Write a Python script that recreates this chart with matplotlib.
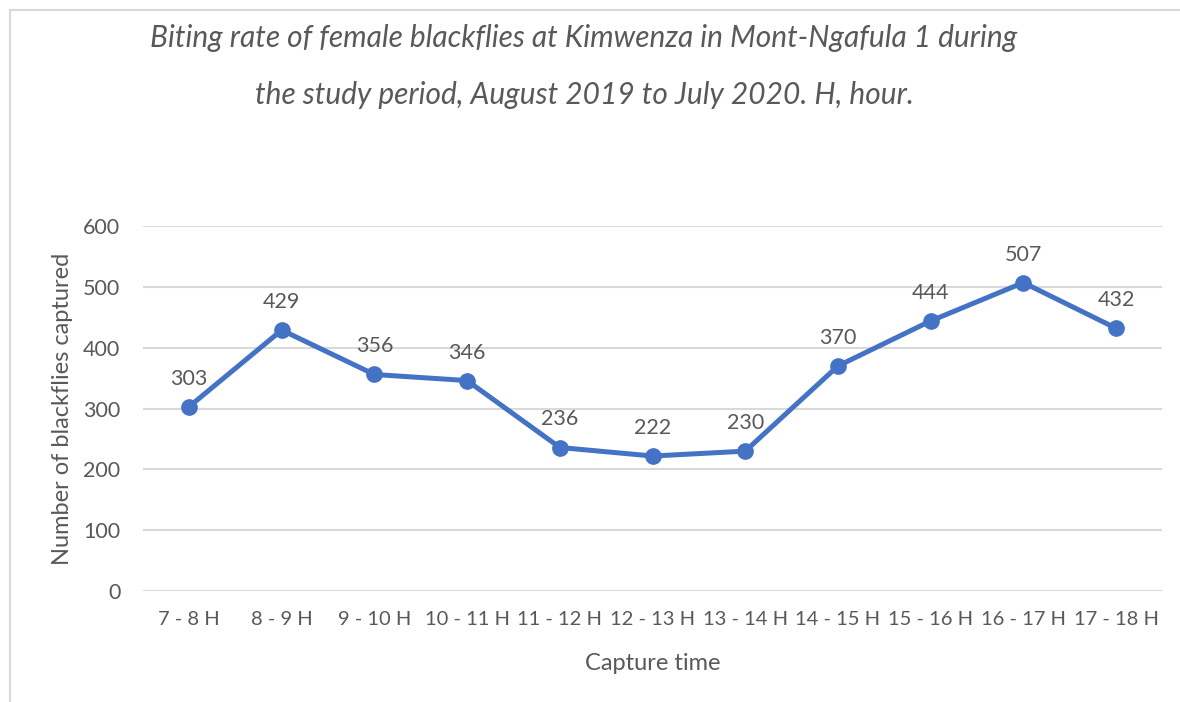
import matplotlib.pyplot as plt
from matplotlib.lines import Line2D

categories = ['7 - 8 H', '8 - 9 H', '9 - 10 H', '10 - 11 H', '11 - 12 H', '12 - 13 H',
              '13 - 14 H', '14 - 15 H', '15 - 16 H', '16 - 17 H', '17 - 18 H']
counts = [303, 429, 356, 346, 236, 222, 230, 370, 444, 507, 432]
yticks = [0, 100, 200, 300, 400, 500, 600]

plt.rcParams['font.family'] = ['Lato', 'DejaVu Sans']
grey = '#595959'
blue = '#4472C4'

fig = plt.figure(figsize=(11.8, 7.02), dpi=100)
ax = fig.add_axes([0.1209, 0.158, 0.8642, 0.520])

x = list(range(len(categories)))
ax.plot(x, counts, color=blue, lw=3.6, marker='o', ms=11, zorder=3)
for xi, v in zip(x, counts):
    ax.annotate(str(v), (xi, v), xytext=(0, 13), textcoords='offset points',
                ha='center', va='bottom', fontsize=15.5, color=grey)

ax.set_xlim(-0.5, len(categories) - 0.5)
ax.set_ylim(0, 600)
ax.set_yticks(yticks)
ax.set_xticks(x)
ax.set_xticklabels(categories)
ax.grid(axis='y', color='#D9D9D9', lw=1.5)
ax.set_axisbelow(True)
for s in ax.spines.values():
    s.set_visible(False)
ax.tick_params(length=0, labelsize=14.5, colors=grey, pad=14)
ax.tick_params(axis='y', labelsize=15.5, pad=16)

ax.set_xlabel('Capture time', fontsize=17, color=grey, labelpad=18)
ax.set_ylabel('Number of blackflies captured', fontsize=17, color=grey, labelpad=7)

fig.text(0.495, 0.946, 'Biting rate of female blackflies at Kimwenza in Mont-Ngafula 1 during',
         ha='center', va='center', fontsize=21.5, style='italic', color=grey)
fig.text(0.495, 0.864, 'the study period, August 2019 to July 2020. H, hour.',
         ha='center', va='center', fontsize=21.5, style='italic', color=grey)

# chart frame (top and left edge visible)
fig.add_artist(Line2D([10 / 1180, 1.0], [1 - 10 / 702, 1 - 10 / 702],
                      transform=fig.transFigure, color='#D9D9D9', lw=1.5))
fig.add_artist(Line2D([10 / 1180, 10 / 1180], [0.0, 1 - 10 / 702],
                      transform=fig.transFigure, color='#D9D9D9', lw=1.5))

fig.savefig('out.png', dpi=100)
